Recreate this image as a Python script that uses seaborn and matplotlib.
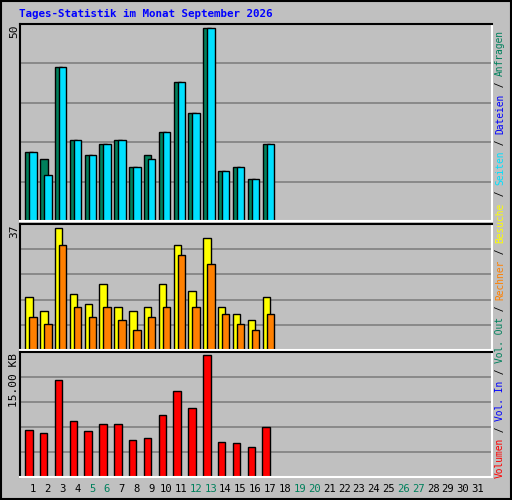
import matplotlib
matplotlib.use("Agg")
import matplotlib.pyplot as plt
import seaborn as sns
import pandas as pd

days = list(range(1, 18))
all_days = list(range(1, 32))
weekend = [5, 6, 12, 13, 19, 20, 26, 27]
hits = [18, 16, 40, 21, 17, 20, 21, 14, 17, 23, 36, 28, 50, 13, 14, 11, 20]
files = [18, 12, 40, 21, 17, 20, 21, 14, 16, 23, 36, 28, 50, 13, 14, 11, 20]
visits = [16, 12, 37, 17, 14, 20, 13, 12, 13, 20, 32, 18, 34, 13, 11, 9, 16]
sites = [10, 8, 32, 13, 10, 13, 9, 6, 10, 13, 29, 13, 26, 11, 8, 6, 11]
kbytes = [5.76, 5.39, 11.97, 6.88, 5.64, 6.5, 6.5, 4.52, 4.77, 7.62, 10.6, 8.49, 15.0,
          4.27, 4.14, 3.65, 6.13]

GREEN = "#00805c"
CYAN = "#00e0ff"
YELLOW = "#ffff00"
ORANGE = "#ff8000"
RED = "#ff0000"
BLUE = "#0000ff"
BG = "#c0c0c0"

sns.set_style("white")
plt.rcParams["font.family"] = ["DejaVu Sans Mono"]

fig = plt.figure(figsize=(5.12, 5.0), dpi=100, facecolor=BG)
W, H = 512, 500
AX_L, AX_W = 20, 472
STEP = 14.83
X0 = 1 - 12.7 / STEP
X1 = X0 + AX_W / STEP


def add_panel(top, bottom):
    ax = fig.add_axes([AX_L / W, 1 - bottom / H, AX_W / W, (bottom - top) / H])
    ax.set_facecolor(BG)
    for s in ["left", "top"]:
        ax.spines[s].set_color("black")
    for s in ["right", "bottom"]:
        ax.spines[s].set_color("white")
    for sp in ax.spines.values():
        sp.set_linewidth(1.5)
    return ax


def grid(ax, top):
    for k in range(1, 5):
        ax.axhline(top * k / 5, color="#808080", lw=1.2, zorder=0)


def bars(ax, x, y, color, off):
    df = pd.DataFrame({"x": [d + off for d in x], "y": y})
    sns.barplot(data=df, x="x", y="y", native_scale=True, width=0.5,
                color=color, edgecolor="black", linewidth=1, saturation=1,
                ax=ax, zorder=2)


ax1 = add_panel(24, 221)
top1 = 51.1
grid(ax1, top1)
bars(ax1, days, hits, GREEN, -0.25)
bars(ax1, days, files, CYAN, 0.02)
ax1.set_ylim(0, top1)

ax2 = add_panel(224, 350)
top2 = 38.3
grid(ax2, top2)
bars(ax2, days, visits, YELLOW, -0.25)
bars(ax2, days, sites, ORANGE, 0.02)
ax2.set_ylim(0, top2)

ax3 = add_panel(352, 477)
top3 = 15.41
grid(ax3, top3)
bars(ax3, days, kbytes, RED, -0.26)
ax3.set_ylim(0, top3)

for ax in (ax1, ax2, ax3):
    ax.set_xlim(X0, X1)
    ax.set_xticks([])
    ax.set_yticks([])
    ax.set_xlabel("")
    ax.set_ylabel("")

# y max labels
for label, ypx in [("50", 25), ("37", 225), ("15.00 KB", 353)]:
    fig.text(14 / W, 1 - ypx / H, label, rotation=90, ha="center", va="top",
             fontsize=8, color="black")

# x tick labels
for d in all_days:
    fig.text((AX_L + (d - X0) * STEP) / W, 1 - 489 / H, str(d),
             ha="center", va="center", fontsize=7.6,
             color=GREEN if d in weekend else "black")

# title
fig.text(19 / W, 1 - 14 / H, "Tages-Statistik im Monat September 2026",
         ha="left", va="center", fontsize=7.8, fontweight="bold", color=BLUE)

# right legend, bottom to top
parts = [("Volumen", RED), (" / ", "black"), ("Vol. In", BLUE), (" / ", "black"),
         ("Vol. Out", GREEN), (" / ", "black"), ("Rechner", ORANGE), (" / ", "black"),
         ("Besuche", YELLOW), (" / ", "black"), ("Seiten", CYAN), (" / ", "black"),
         ("Dateien", BLUE), (" / ", "black"), ("Anfragen", GREEN)]
char_px = 5.74
ypos = 478
for txt, col in parts:
    fig.text(500 / W, 1 - ypos / H, txt, rotation=90, ha="center", va="bottom",
             fontsize=6.9, color=col)
    ypos -= len(txt) * char_px

# frame
fig.patches.append(plt.Rectangle((0.002, 0.002), 0.996, 0.996, transform=fig.transFigure,
                                 fill=False, edgecolor="black", lw=1.5))

fig.savefig("out.png", dpi=100, facecolor=BG)
